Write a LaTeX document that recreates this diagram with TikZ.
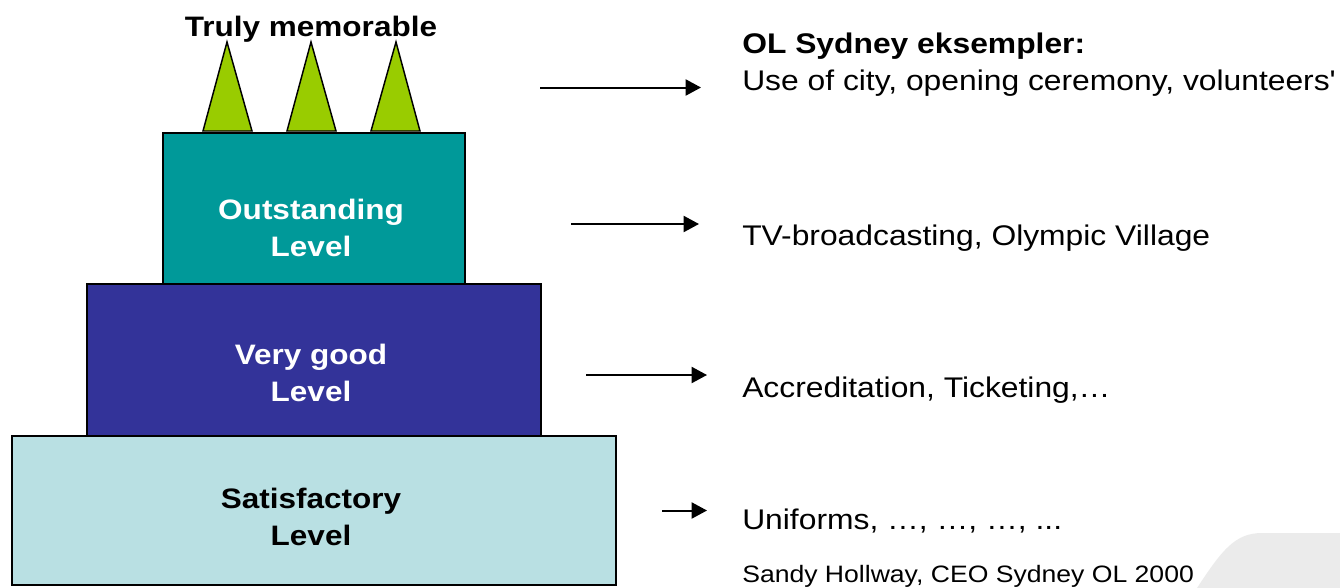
\documentclass[tikz,border=0pt]{standalone}
\usepackage{fontspec}
\setmainfont{Liberation Sans}[FakeStretch=1.12]
\usetikzlibrary{arrows.meta}
\definecolor{satfill}{RGB}{185,224,227}
\definecolor{vgfill}{HTML}{333399}
\definecolor{outfill}{HTML}{009999}
\definecolor{trifill}{HTML}{99CC00}
\definecolor{cornergray}{RGB}{235,235,235}
\tikzset{
  levelbox/.style={draw=black, line width=1.1pt, inner sep=0pt, outer sep=0pt},
  levellabel/.style={align=center, font=\fontsize{21.1pt}{27.75pt}\selectfont\bfseries, inner sep=0pt},
  spike/.style={draw=black, line width=1.1pt, fill=trifill, line join=miter},
  pointer/.style={line width=1.5pt, -{Triangle[length=11.5pt, width=12pt]}},
  sidetext/.style={anchor=base west, inner sep=0pt, font=\fontsize{21.3pt}{25pt}\selectfont},
}
\begin{document}
\begin{tikzpicture}[x=0.75pt, y=-0.75pt]
\useasboundingbox (0,0) rectangle (1340,587);
% corner decoration
\fill[cornergray] (1197,588) .. controls (1222,550) and (1235,533) .. (1262,533) -- (1341,533) -- (1341,588) -- cycle;

% level boxes
\node[levelbox, fill=satfill, minimum width=453pt, minimum height=111.75pt] (sat) at (314,510.5) {};
\node[levelbox, fill=vgfill, minimum width=340.5pt, minimum height=114pt] (vg) at (314,360) {};
\node[levelbox, fill=outfill, minimum width=226.5pt, minimum height=113.25pt] (out) at (314,208.5) {};

\node[levellabel, text=black] (satlab) at (311,517) {Satisfactory\\Level};
\node[levellabel, text=white] (vglab) at (311,373) {Very good\\Level};
\node[levellabel, text=white] (outlab) at (311,228) {Outstanding\\Level};

% spikes
\draw[spike] (203,131) -- (227,42) -- (252,131) -- cycle;
\draw[spike] (287,131) -- (311,42) -- (336,131) -- cycle;
\draw[spike] (371,131) -- (396,42) -- (420,131) -- cycle;
\node[anchor=base, inner sep=0pt, font=\fontsize{21.1pt}{25pt}\selectfont\bfseries] (truly) at (311,36) {Truly memorable};

% right texts
\node[sidetext, font=\fontsize{21.3pt}{25pt}\selectfont\bfseries] (olhead) at (742,53) {OL Sydney eksempler:};
\node[sidetext] (t1) at (742,90) {Use of city, opening ceremony, volunteers\textquotesingle};
\node[sidetext] (t2) at (742,245) {TV-broadcasting, Olympic Village};
\node[sidetext] (t3) at (742,397) {Accreditation, Ticketing,…};
\node[sidetext] (t4) at (742,529) {Uniforms, …, …, …, ...};
\node[sidetext, font=\fontsize{17.8pt}{20pt}\selectfont] (src) at (742,582) {Sandy Hollway, CEO Sydney OL 2000};

% arrows
\coordinate (a1s) at (540,87.5);  \coordinate (a1e) at (701,87.5);
\coordinate (a2s) at (571,224);   \coordinate (a2e) at (699,224);
\coordinate (a3s) at (586,375);   \coordinate (a3e) at (707,375);
\coordinate (a4s) at (662,510.5); \coordinate (a4e) at (707,510.5);
\draw[pointer] (a1s) -- (a1e);
\draw[pointer] (a2s) -- (a2e);
\draw[pointer] (a3s) -- (a3e);
\draw[pointer] (a4s) -- (a4e);
\end{tikzpicture}
\end{document}
